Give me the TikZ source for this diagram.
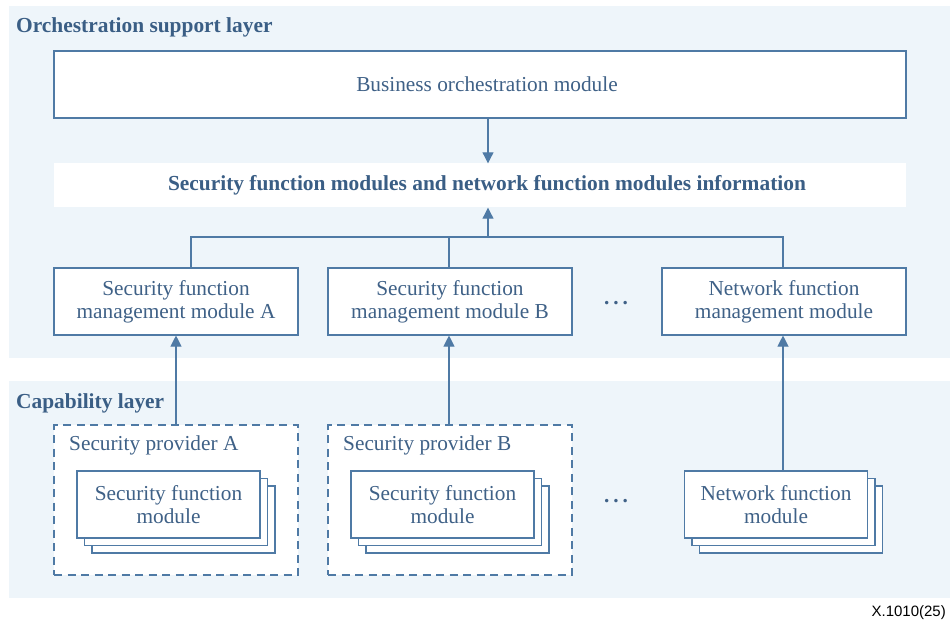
\documentclass[tikz,border=0pt]{standalone}
\usepackage{fontspec}
\setmainfont{Liberation Serif}
\newfontfamily\labelsans{Liberation Sans}
\usetikzlibrary{arrows.meta}
\definecolor{bandblue}{HTML}{EEF5FA}
\definecolor{lineblue}{HTML}{4F7AA5}
\definecolor{textblue}{HTML}{3F6187}
\definecolor{titleblue}{HTML}{3A5E85}

\begin{document}
\begin{tikzpicture}[x=1pt,y=-1pt,
  mainfont/.style={font=\fontsize{21.3}{23}\selectfont},
  box/.style={draw=lineblue, line width=1.1pt, fill=white, text=textblue,
    align=center, mainfont, inner sep=0pt},
  provbox/.style={draw=lineblue, line width=1.1pt, dash pattern=on 8pt off 5.5pt,
    fill=white, inner sep=0pt},
  link/.style={draw=lineblue, line width=1.1pt},
  arr/.style={link, -{Triangle[length=11pt,width=11pt]}},
  layertitle/.style={font=\fontsize{21.4}{23}\selectfont\bfseries, text=titleblue,
    anchor=base west, inner sep=0pt},
  plain/.style={text=textblue, mainfont, inner sep=0pt},
]
\useasboundingbox (0,0) rectangle (950,620);
\fill[white] (0,0) rectangle (950,620);

% layer bands
\fill[bandblue] (9,6) rectangle (950,358);
\fill[bandblue] (9,381) rectangle (950,598);
\node[layertitle] (orchTitle) at (16,33) {Orchestration support layer};
\node[layertitle] (capTitle) at (16,408) {Capability layer};

% orchestration support layer (texts sit on the axis of the central arrow)
\node[box, minimum width=852pt, minimum height=67pt] (bom) at (480,84.5)
  {\hspace*{14pt}Business orchestration module};
\node[fill=white, minimum width=852pt, minimum height=44pt, inner sep=0pt,
  text=titleblue, font=\fontsize{21.4}{23}\selectfont\bfseries] (info) at (480,185.5)
  {\hspace*{14pt}Security function modules and network function modules information};

\node[box, minimum width=244pt, minimum height=67pt] (mgA) at (176,301.5)
  {Security function\\management module A};
\node[box, minimum width=244pt, minimum height=67pt] (mgB) at (450,301.5)
  {Security function\\management module B};
\node[box, minimum width=244pt, minimum height=67pt] (mgN) at (784,301.5)
  {Network function\\management module};
\node[plain, anchor=base, font=\fontsize{21.3}{23}\selectfont\bfseries] (dotsTop)
  at (616,304) {.\hspace{4pt}.\hspace{4pt}.};

% capability layer: providers
\node[provbox, minimum width=244pt, minimum height=150pt] (provA) at (176,500) {};
\node[provbox, minimum width=244pt, minimum height=150pt] (provB) at (450,500) {};
\node[plain, anchor=base west] (provAlbl) at (69,450) {Security provider A};
\node[plain, anchor=base west] (provBlbl) at (343,450) {Security provider B};

% stacked module instances
\foreach \cx/\nm in {168.5/A, 442.5/B, 776/N}{
  \node[box, minimum width=183pt, minimum height=67pt] (mod\nm3) at (\cx+15,519.5) {};
  \node[box, minimum width=183pt, minimum height=67pt] (mod\nm2) at (\cx+7.5,512) {};
}
\node[box, minimum width=183pt, minimum height=67pt] (modA) at (168.5,504.5)
  {Security function\\module};
\node[box, minimum width=183pt, minimum height=67pt] (modB) at (442.5,504.5)
  {Security function\\module};
\node[box, minimum width=183pt, minimum height=67pt] (modN) at (776,504.5)
  {Network function\\module};
\node[plain, anchor=base, font=\fontsize{21.3}{23}\selectfont\bfseries] (dotsBottom)
  at (616,502) {.\hspace{4pt}.\hspace{4pt}.};

% connectors
\coordinate (busA) at (191,237);
\coordinate (busB) at (449,237);
\coordinate (busM) at (488,237);
\coordinate (busN) at (783,237);
\draw[link] (mgA.north -| busA) -- (busA) -- (busN) -- (mgN.north -| busN);
\draw[link] (busB) -- (mgB.north -| busB);
\draw[arr] (busM) -- (info.south -| busM);
\draw[arr] (bom.south -| busM) -- (info.north -| busM);

\draw[arr] (provA.north) -- (mgA.south);
\draw[arr] (provB.north -| busB) -- (mgB.south -| busB);
\draw[arr] (modN.north -| busN) -- (mgN.south -| busN);

% figure reference
\node[anchor=base east, inner sep=0pt, font=\labelsans\fontsize{15}{17}\selectfont]
  (figref) at (946,616) {X.1010(25)};
\end{tikzpicture}
\end{document}
